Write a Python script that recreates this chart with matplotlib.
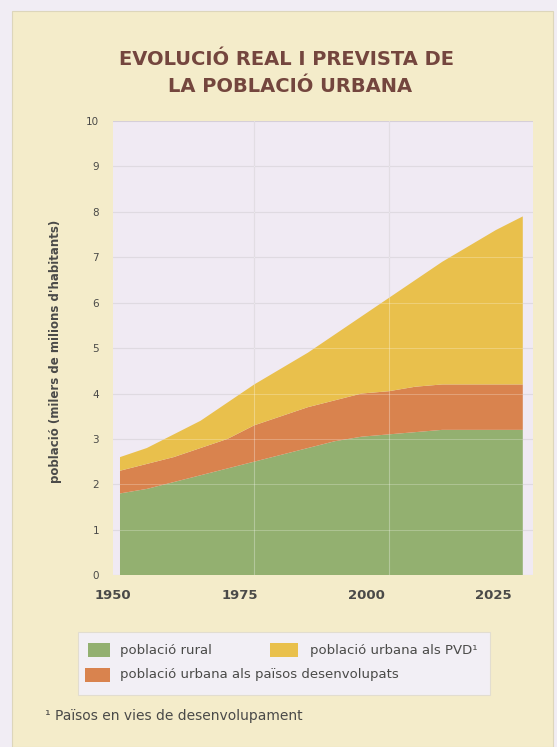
import matplotlib.pyplot as plt
from matplotlib.patches import Rectangle

# data (milers de milions)
years = [1950, 1955, 1960, 1965, 1970, 1975, 1980, 1985, 1990, 1995,
         2000, 2005, 2010, 2015, 2020, 2025]
rural = [1.8, 1.9, 2.05, 2.2, 2.35, 2.5, 2.65, 2.8, 2.95, 3.05,
         3.1, 3.15, 3.2, 3.2, 3.2, 3.2]
urbana_desenv = [0.5, 0.55, 0.55, 0.6, 0.65, 0.8, 0.85, 0.9, 0.9, 0.95,
                 0.95, 1.0, 1.0, 1.0, 1.0, 1.0]
urbana_pvd = [0.3, 0.35, 0.5, 0.6, 0.8, 0.9, 1.05, 1.2, 1.45, 1.7,
              2.05, 2.35, 2.7, 3.05, 3.4, 3.7]

xticks = [1950, 1975, 2000, 2025]
yticks = list(range(0, 11))

green = '#93b070'
orange = '#d9834e'
yellow = '#e9c04c'
cream = '#f4ecca'
lavender = '#f0eaf3'
title_col = '#74463e'
text_col = '#4a4a48'

fig = plt.figure(figsize=(5.57, 7.47), dpi=100)
fig.patch.set_facecolor('#f1edf4')
fig.patches.append(Rectangle((0.022, 0.0), 0.97, 0.985, transform=fig.transFigure,
                             facecolor=cream, edgecolor='#ddd6bb', linewidth=0.8, zorder=-2))

ax = fig.add_axes([0.2029, 0.230, 0.754, 0.608])
ax.set_zorder(2)
ax.set_facecolor(lavender)

ax.stackplot(years, rural, urbana_desenv, urbana_pvd,
             colors=[green, orange, yellow], linewidth=0, zorder=2)

# the panel runs a little past the first and last year
ax.set_xlim(1948.7, 2026.9)
ax.set_ylim(0, 10)
ax.set_xticks(xticks)
ax.set_yticks(yticks)
ax.grid(True, color='#d6cfd8', linewidth=0.8, zorder=1)
ax.set_axisbelow(True)
# light grid lines showing through the filled areas
for y in yticks[1:-1]:
    ax.axhline(y, color='white', linewidth=0.7, alpha=0.25, zorder=3)
for x in xticks[1:-1]:
    ax.axvline(x, color='white', linewidth=0.8, alpha=0.3, zorder=3)
ax.xaxis.grid(False)
for x in xticks[1:-1]:
    ax.axvline(x, color='#d6cfd8', linewidth=0.8, zorder=1)

for s in ax.spines.values():
    s.set_visible(False)
ax.tick_params(axis='y', length=0, pad=10, labelsize=7.5, labelcolor=text_col)
ax.tick_params(axis='x', length=0, labelbottom=False)

# in the original the year labels sit a bit left of the grid lines
sec = ax.secondary_xaxis('bottom',
                         functions=(lambda p: 1950 + (p - 1948.7) / 0.945,
                                    lambda v: 1948.7 + (v - 1950) * 0.945))
sec.set_xticks(xticks)
sec.tick_params(length=0, pad=10, labelsize=9.5, labelcolor=text_col)
for lab in sec.get_xticklabels():
    lab.set_fontweight('bold')
for s in sec.spines.values():
    s.set_visible(False)

fig.text(0.099, 0.53, "població (milers de milions d'habitants)", rotation=90,
         ha='center', va='center', fontsize=8.5, color=text_col, fontweight='bold')

fig.text(0.515, 0.921, 'EVOLUCIÓ REAL I PREVISTA DE', ha='center', va='center',
         fontsize=14, fontweight='bold', color=title_col)
fig.text(0.52, 0.884, 'LA POBLACIÓ URBANA', ha='center', va='center',
         fontsize=14, fontweight='bold', color=title_col)

# legend box drawn by hand to match the original layout
fig.patches.append(Rectangle((0.140, 0.0696), 0.740, 0.0843, transform=fig.transFigure,
                             facecolor='#f2eff5', edgecolor='#e2ddd0', linewidth=0.8, zorder=1))
fig.patches.append(Rectangle((0.158, 0.120), 0.040, 0.019, transform=fig.transFigure,
                             facecolor=green, edgecolor='none', zorder=2))
fig.patches.append(Rectangle((0.485, 0.120), 0.050, 0.019, transform=fig.transFigure,
                             facecolor=yellow, edgecolor='none', zorder=2))
fig.patches.append(Rectangle((0.153, 0.087), 0.045, 0.019, transform=fig.transFigure,
                             facecolor=orange, edgecolor='none', zorder=2))
fig.text(0.215, 0.1295, 'població rural', va='center', fontsize=9.5, color=text_col)
fig.text(0.556, 0.1295, 'població urbana als PVD¹', va='center', fontsize=9.5, color=text_col)
fig.text(0.215, 0.0965, 'població urbana als països desenvolupats', va='center',
         fontsize=9.5, color=text_col)

fig.text(0.081, 0.041, '¹ Països en vies de desenvolupament', va='center',
         fontsize=10, color=text_col)

fig.savefig('out.png', dpi=100, facecolor=fig.get_facecolor())
